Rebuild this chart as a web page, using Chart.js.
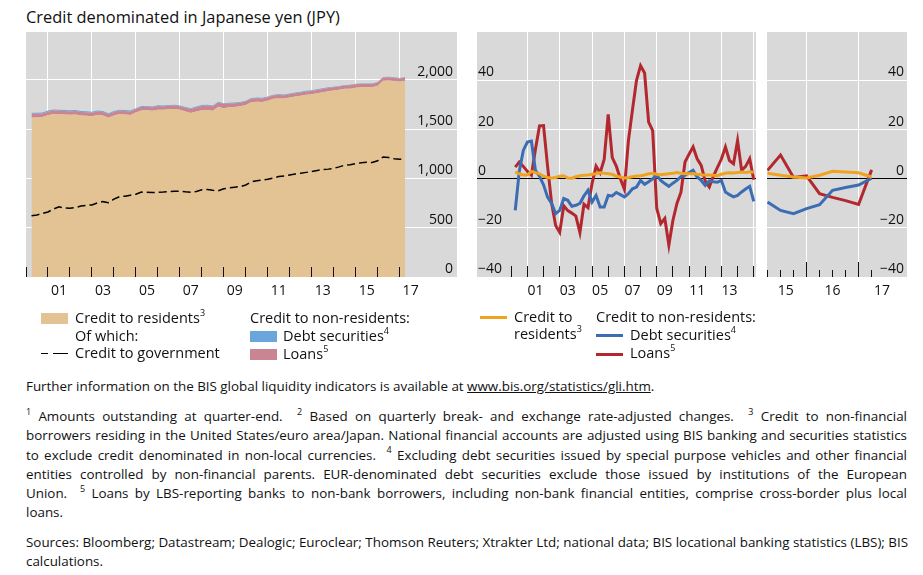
<!DOCTYPE html>
<html lang="en">
<head>
<meta charset="UTF-8">
<title>Credit denominated in Japanese yen (JPY)</title>
<script src="https://cdn.jsdelivr.net/npm/chart.js"></script>
<style>
  body { margin: 0; background: #fff; font-family: "Open Sans", sans-serif; color: #111; }
  #page { position: relative; width: 923px; height: 575px; overflow: hidden; }
  #page canvas { position: absolute; }
  .t { position: absolute; white-space: nowrap; font-size: 14.5px; line-height: 18px; }
  .t sup { font-size: 9px; line-height: 0; position: relative; top: -1px; }
  .sw { position: absolute; width: 27px; height: 11px; }
  .ln { position: absolute; width: 27px; height: 3px; }
  .dash { position: absolute; height: 1.5px; background: #000; }
  #title { position: absolute; left: 26px; top: 5px; font-size: 16.4px; white-space: nowrap; }
  .notes { position: absolute; left: 26px; width: 881px; font-size: 13.4px; line-height: 19.3px; }
  .notes div { white-space: nowrap; }
  .notes .j { text-align: justify; text-align-last: justify; }
  .notes sup { font-size: 9px; line-height: 0; position: relative; top: -1px; }
</style>
</head>
<body>
<div id="page">
  <div id="title">Credit denominated in Japanese yen (JPY)</div>

  <canvas id="c1" width="431" height="275" style="left:26px;top:32px"></canvas>
  <canvas id="c2" width="279" height="275" style="left:477px;top:32px"></canvas>
  <canvas id="c3" width="140" height="275" style="left:767px;top:32px"></canvas>

  <!-- legend, left panel -->
  <div class="sw" style="left:41px;top:313px;background:#e3c394"></div>
  <div class="t" style="left:75px;top:309px">Credit to residents<sup>3</sup></div>
  <div class="t" style="left:75px;top:327px">Of which:</div>
  <div class="dash" style="left:41px;top:352.5px;width:7px"></div>
  <div class="dash" style="left:53px;top:352.5px;width:15px"></div>
  <div class="t" style="left:75px;top:344px">Credit to government</div>
  <div class="t" style="left:250px;top:309px">Credit to non-residents:</div>
  <div class="sw" style="left:250px;top:331px;background:#6aa5dc"></div>
  <div class="t" style="left:283px;top:327px">Debt securities<sup>4</sup></div>
  <div class="sw" style="left:250px;top:349px;background:#c98592"></div>
  <div class="t" style="left:283px;top:345px">Loans<sup>5</sup></div>

  <!-- legend, right panels -->
  <div class="ln" style="left:480px;top:316px;background:#f0a31e"></div>
  <div class="t" style="left:514px;top:308px">Credit to</div>
  <div class="t" style="left:514px;top:325px">residents<sup>3</sup></div>
  <div class="t" style="left:596px;top:308px">Credit to non-residents:</div>
  <div class="ln" style="left:596px;top:334px;background:#3c6db4"></div>
  <div class="t" style="left:630px;top:326px">Debt securities<sup>4</sup></div>
  <div class="ln" style="left:596px;top:352.5px;background:#b3282e"></div>
  <div class="t" style="left:630px;top:344px">Loans<sup>5</sup></div>

  <div class="notes" style="top:377px">
    <div>Further information on the BIS global liquidity indicators is available at <u>www.bis.org/statistics/gli.htm</u>.</div>
  </div>
  <div class="notes" style="top:407px">
    <div class="j"><sup>1</sup> Amounts outstanding at quarter-end.&nbsp; <sup>2</sup> Based on quarterly break- and exchange rate-adjusted changes.&nbsp; <sup>3</sup> Credit to non-financial</div>
    <div class="j">borrowers residing in the United States/euro area/Japan. National financial accounts are adjusted using BIS banking and securities statistics</div>
    <div class="j">to exclude credit denominated in non-local currencies.&nbsp; <sup>4</sup> Excluding debt securities issued by special purpose vehicles and other financial</div>
    <div class="j">entities controlled by non-financial parents. EUR-denominated debt securities exclude those issued by institutions of the European</div>
    <div class="j">Union.&nbsp; <sup>5</sup> Loans by LBS-reporting banks to non-bank borrowers, including non-bank financial entities, comprise cross-border plus local</div>
    <div>loans.</div>
  </div>
  <div class="notes" style="top:533px">
    <div class="j">Sources: Bloomberg; Datastream; Dealogic; Euroclear; Thomson Reuters; Xtrakter Ltd; national data; BIS locational banking statistics (LBS); BIS</div>
    <div>calculations.</div>
  </div>
</div>

<script>
// quarters 2000Q1 .. 2017Q1, plotted at quarter end
const quarters = [];
for (let y = 2000; y <= 2017; y++) {
  for (let q = 1; q <= 4; q++) {
    if (y === 2017 && q > 1) break;
    quarters.push(y + 'Q' + q);
  }
}
const qx = quarters.map(s => Number(s.slice(0, 4)) + Number(s.slice(5)) / 4);

// left panel, JPY trn, amounts outstanding
const residents = [1620,1620,1624,1642,1654,1652,1649,1647,1650,1640,1637,1632,
  1644,1639,1616,1639,1654,1649,1644,1669,1690,1692,1687,1699,
  1697,1702,1705,1697,1680,1665,1681,1693,1694,1687,1727,1714,
  1722,1726,1733,1746,1774,1779,1777,1789,1809,1813,1811,1821,
  1832,1840,1850,1855,1865,1875,1885,1892,1900,1910,1912,1922,
  1927,1927,1927,1941,1991,1995,1989,1983,1991];
const loansAmt = [36,36,36,36,36,36,36,36,36,36,36,36,
  36,36,36,36,36,36,36,36,36,36,36,36,
  36,36,36,36,38,40,42,44,46,46,44,42,
  40,38,36,35,35,35,35,35,35,35,35,35,
  34,34,34,34,34,34,34,34,34,34,34,34,
  33,33,33,33,33,33,33,33,33];
const debtAmt = [11,11,11,11,11,11,10,10,10,10,10,10,
  9,9,9,9,9,9,9,9,9,9,9,9,
  8,8,8,8,8,8,8,8,8,8,8,8,
  7,7,7,7,7,7,7,7,7,7,7,7,
  6,6,6,6,6,6,6,6,6,6,6,6,
  5,5,5,5,5,5,5,5,5];
const government = [622,630,645,660,690,712,700,698,705,720,728,732,
  752,765,755,790,815,820,830,840,862,860,858,860,
  862,866,870,872,865,860,868,885,888,880,876,895,
  905,912,918,934,965,978,985,992,1005,1020,1025,1035,
  1045,1053,1062,1070,1082,1090,1095,1103,1118,1135,1140,1150,
  1160,1164,1162,1180,1218,1212,1200,1195,1196];

// right panels, yoy growth, %
const residentsGr = [2.8,2,1.5,1.5,3,2.5,2,1,0.5,0.3,0.5,1,
  1.2,0.3,0.2,0.8,1.2,1.4,1.5,1.8,2,2.4,2.2,2,
  1.8,1,0.7,0.3,0.5,0.8,1.1,1.2,1.5,2,2.2,1.8,
  1.6,1.8,2,2.2,2.5,2.2,2,2,2.1,1.8,1.6,1.5,
  1.5,1.4,1.2,1.8,2.2,2.4,2.3,2.5,2.7,2.5,2.8,2.6,
  2.2,1.4,0.7,0.3,1.4,3.0,2.7,2.4,0.7];
const debtGr = [-12.9,3,11.5,14.9,15.3,3.4,1,-2.5,-7.5,-10.1,-14.2,-12.9,
  -8.1,-8.8,-11.2,-10.8,-10,-7,-4.7,-9.5,-6.8,-11.5,-11.5,-6.8,
  -7,-5.6,-6.5,-7.4,-6.1,-4.1,-3.4,-0.7,-2.3,-1.2,0,1.4,
  -0.7,-2,-3.1,-1.8,-0.7,0.9,1.4,2.5,3.4,0.7,-0.7,-2.7,
  -0.9,-1.2,-1.4,-0.7,-5.4,-6.5,-7.4,-6.8,-5.4,-4.2,-3.1,-9.2,
  -9.5,-12.9,-14.2,-12.2,-10.6,-4.7,-3.6,-2.6,0.2];
const loansGr = [4.7,6.8,5,3,1.4,12,21.5,21.6,5,-10,-19,-21.8,
  -11,-13,-14,-15.2,-21.9,-10.4,-11.8,-2,5.1,2.4,7.8,26.2,
  8.6,5.1,0,-4.3,15.5,28,40,46,43,23,19.6,-12,
  -18.3,-16.2,-27,-17,-10.1,-5.5,6.8,10,12.9,8.1,5.4,-1,
  -3.4,1,4.5,8,12.9,7.4,6.1,15.5,3.4,5,8.1,-0.4,
  3.4,9.6,0.5,1.2,-6.1,-7.6,-8.9,-10.5,3.6];

const ticks1 = [0, 500, 1000, 1500, 2000];
const ticks2 = [-40, -20, 0, 20, 40];
const years1 = ['01','03','05','07','09','11','13','15','17'];
const years2 = ['01','03','05','07','09','11','13'];
const years3 = ['15','16','17'];
const years3At = [2015.6, 2016.5, 2017.45];

const split = 60; // 2015Q1 onwards goes to the short panel

Chart.defaults.font.family = '"Open Sans", sans-serif';
Chart.defaults.color = '#111';
const axisFont = { family: '"Open Sans", sans-serif', size: 14 };

const grayBg = {
  id: 'grayBg',
  beforeDraw(chart) {
    const a = chart.chartArea, ctx = chart.ctx;
    ctx.save();
    ctx.fillStyle = '#d9d9d9';
    ctx.fillRect(a.left, a.top, a.right - a.left, a.bottom - a.top);
    ctx.restore();
  }
};

function fit(size) {
  return s => {
    s.paddingTop = s.paddingBottom = s.paddingLeft = s.paddingRight = 0;
    if (s.isHorizontal()) s.height = size; else s.width = size;
  };
}
function at(vals) {
  return s => { s.ticks = vals.map(v => ({ value: v })); };
}
function pts(vals, from, to) {
  return vals.slice(from, to).map((v, i) => ({ x: qx[from + i], y: v }));
}
function minus(v) { return v < 0 ? '\u2212' + Math.abs(v) : String(v); }

// bottom axes: white grid lines, tick marks, year labels
function gridAxis(min, max, lines) {
  return { type: 'linear', position: 'bottom', min, max,
    afterBuildTicks: at(lines), afterFit: fit(0),
    grid: { color: '#fff', lineWidth: 1, drawTicks: false },
    border: { display: false }, ticks: { display: false } };
}
function markAxis(min, max, marks, len) {
  return { type: 'linear', position: 'bottom', min, max,
    afterBuildTicks: at(marks), afterFit: fit(0),
    grid: { drawOnChartArea: false, drawTicks: true, tickLength: -len, tickColor: '#111', tickWidth: 1, z: 1 },
    border: { display: false }, ticks: { display: false } };
}
function labelAxis(min, max, pos, text) {
  return { type: 'linear', position: 'bottom', min, max,
    afterBuildTicks: at(pos), afterFit: fit(30),
    grid: { display: false, drawTicks: false },
    border: { display: false },
    ticks: { autoSkip: false, maxRotation: 0, padding: 6, font: axisFont, color: '#111',
      callback: (v, i) => text[i] } };
}
function valueAxis(position, min, max, vals, pad, fmt) {
  return { position, min, max,
    afterBuildTicks: at(vals), afterFit: fit(0),
    grid: { color: c => (c.tick && c.tick.value === 0 && min < 0) ? '#000' : '#fff', lineWidth: 1, drawTicks: false },
    border: { display: false },
    ticks: { mirror: true, padding: pad, labelOffset: -8, font: axisFont, color: '#111', callback: fmt } };
}

const base = {
  responsive: false, animation: false,
  layout: { padding: 0 },
  elements: { point: { radius: 0 }, line: { tension: 0 } },
  plugins: { legend: { display: false }, tooltip: { enabled: false } }
};

// amounts outstanding
const x1min = 2000, x1max = 2019.61;
new Chart(document.getElementById('c1'), {
  type: 'line',
  plugins: [grayBg],
  data: { datasets: [
    { label: 'Credit to government', data: pts(government, 0), stack: 'g',
      borderColor: '#000', borderWidth: 1.5, borderDash: [8, 4], fill: false },
    { label: 'Credit to residents', data: pts(residents, 0), stack: 'a',
      borderWidth: 0, backgroundColor: '#e3c394', fill: 'origin' },
    { label: 'Loans', data: pts(loansAmt, 0), stack: 'a',
      borderWidth: 0, backgroundColor: '#c98592', fill: 1 },
    { label: 'Debt securities', data: pts(debtAmt, 0), stack: 'a',
      borderWidth: 0, backgroundColor: '#6aa5dc', fill: 2 }
  ] },
  options: Object.assign({}, base, { scales: {
    x: gridAxis(x1min, x1max, [2001, 2003, 2005, 2007, 2009, 2011, 2013, 2015, 2017]),
    xt: markAxis(x1min, x1max, [2000,2001,2002,2003,2004,2005,2006,2007,2008,2009,2010,2011,2012,2013,2014,2015,2016,2017], 10),
    xl: labelAxis(x1min, x1max, years1.map(s => 2000 + Number(s) + 0.5), years1),
    y: Object.assign(valueAxis('right', 0, 2487, ticks1, -4, v => v.toLocaleString('en-US')), { stacked: true })
  } })
});

function growthSets(from, to) {
  return [
    { label: 'Credit to residents', data: pts(residentsGr, from, to), borderColor: '#f0a31e', borderWidth: 3, fill: false },
    { label: 'Debt securities', data: pts(debtGr, from, to), borderColor: '#3c6db4', borderWidth: 3, fill: false },
    { label: 'Loans', data: pts(loansGr, from, to), borderColor: '#b3282e', borderWidth: 3, fill: false }
  ];
}

// growth rates, 2000-14
const x2min = 1997.885, x2max = 2015.14;
new Chart(document.getElementById('c2'), {
  type: 'line',
  plugins: [grayBg],
  data: { datasets: growthSets(0, split) },
  options: Object.assign({}, base, { scales: {
    x: gridAxis(x2min, x2max, [2001, 2003, 2005, 2007, 2009, 2011, 2013, 2015]),
    xt: markAxis(x2min, x2max, [2000,2001,2002,2003,2004,2005,2006,2007,2008,2009,2010,2011,2012,2013,2014,2015], 11),
    xl: labelAxis(x2min, x2max, years2.map(s => 2000 + Number(s) + 0.5), years2),
    y: valueAxis('left', -40, 59.7, ticks2, 1, minus)
  } })
});

// growth rates, 2015-17
const x3min = 2015.24, x3max = 2017.93;
new Chart(document.getElementById('c3'), {
  type: 'line',
  plugins: [grayBg],
  data: { datasets: growthSets(split) },
  options: Object.assign({}, base, { scales: {
    x: gridAxis(x3min, x3max, [2016, 2017]),
    xt: markAxis(x3min, x3max, [2015.25, 2015.5, 2015.75, 2016.25, 2016.5, 2016.75, 2017.25], 7),
    xy: markAxis(x3min, x3max, [2016, 2017], 15),
    xl: labelAxis(x3min, x3max, years3At, years3),
    y: valueAxis('right', -40, 59.7, ticks2, -3, minus)
  } })
});
</script>
</body>
</html>
